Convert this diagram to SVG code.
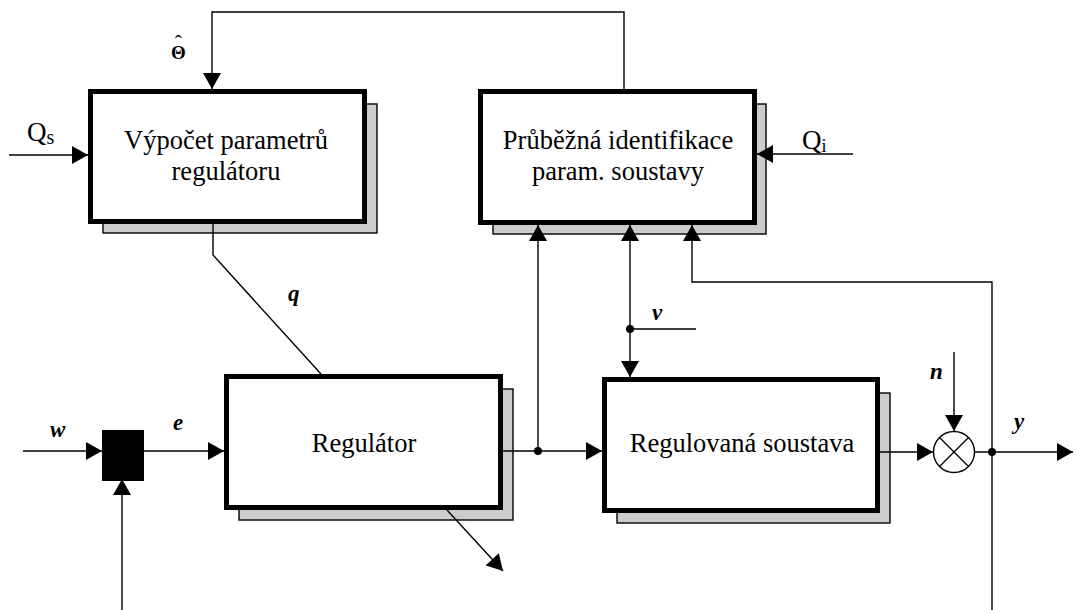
<svg xmlns="http://www.w3.org/2000/svg" width="1077" height="610" viewBox="0 0 1077 610">
<style>
.shadow{fill:#cccccc;stroke:#000;stroke-width:1.4}
.box{fill:#fff;stroke:#000;stroke-width:5}
.t{font-family:"Liberation Serif","Times New Roman",serif;font-size:26.5px;text-anchor:middle;fill:#000}
.lbl{font-family:"Liberation Serif","Times New Roman",serif;font-size:23px;font-style:italic;font-weight:bold;fill:#000}
.q{font-family:"Liberation Serif","Times New Roman",serif;font-size:27px;fill:#000}
.ln{fill:none;stroke:#000;stroke-width:1.4}
.arr{marker-end:url(#ah)}
</style>
<defs>
<marker id="ah" markerUnits="userSpaceOnUse" markerWidth="16" markerHeight="18" refX="16" refY="9" orient="auto" viewBox="0 0 16 18">
<path d="M0,0 L16,9 L0,18 z" fill="#000"/>
</marker>
</defs>
<rect width="1077" height="610" fill="#fff"/>

<g id="vypocet">
<rect class="shadow" x="103" y="104" width="274" height="129"/>
<rect class="box" x="90.5" y="91.5" width="274" height="130"/>
<text class="t" x="226" y="149">Výpočet parametrů</text>
<text class="t" x="226" y="180">regulátoru</text>
</g>

<g id="identifikace">
<rect class="shadow" x="493" y="104" width="273" height="130"/>
<rect class="box" x="480.5" y="91.5" width="274" height="131"/>
<text class="t" x="618" y="149">Průběžná identifikace</text>
<text class="t" x="618" y="180">param. soustavy</text>
</g>

<g id="regulator">
<rect class="shadow" x="239" y="389" width="274" height="131"/>
<rect class="box" x="226.5" y="376.5" width="274" height="131"/>
<text class="t" x="364" y="452">Regulátor</text>
</g>

<g id="soustava">
<rect class="shadow" x="617" y="393" width="273" height="130"/>
<rect class="box" x="604.5" y="379.5" width="273" height="131"/>
<text class="t" x="742" y="452">Regulovaná soustava</text>
</g>

<g id="srovnavac">
<rect x="102" y="430" width="42" height="51" fill="#000"/>
</g>

<g id="nasobic">
<circle cx="954" cy="452" r="20.5" fill="#fff" stroke="#000" stroke-width="1.4"/>
<path class="ln" d="M939.5,437.5 L968.5,466.5 M968.5,437.5 L939.5,466.5"/>
</g>

<g id="connectors">
<path class="ln arr" d="M624,89 V12 H212 V89"/>
<path class="ln arr" d="M9,155 H88"/>
<path class="ln arr" d="M853,154 H757"/>
<path class="ln" d="M213,224 V255 L321,374"/>
<path class="ln arr" d="M23,451 H102"/>
<path class="ln arr" d="M122,610 V479"/>
<path class="ln arr" d="M144,451 H224"/>
<path class="ln arr" d="M503,451 H602"/>
<path class="ln arr" d="M538,451 V225"/>
<path class="ln arr" d="M630,329 V225"/>
<path class="ln arr" d="M630,329 V377"/>
<path class="ln" d="M630,329 H696"/>
<path class="ln arr" d="M992,610 V282 H692 V225"/>
<path class="ln arr" d="M447,510 L503,571"/>
<path class="ln arr" d="M880,452 H933"/>
<path class="ln arr" d="M954,352 V431"/>
<path class="ln arr" d="M975,452 H1073"/>
<circle cx="538" cy="451" r="4" fill="#000"/>
<circle cx="630" cy="329" r="4" fill="#000"/>
<circle cx="992" cy="452" r="4" fill="#000"/>
</g>

<g id="labels">
<text x="178.5" y="59" font-family="Liberation Serif, serif" font-size="19" font-weight="bold" text-anchor="middle">Θ<tspan x="178.5" y="50" font-size="22" font-weight="normal">ˆ</tspan></text>
<text class="q" x="27" y="141">Q<tspan font-size="20" dy="3">s</tspan></text>
<text class="q" x="802" y="149">Q<tspan font-size="18" dy="3">i</tspan></text>
<text class="lbl" x="50" y="437">w</text>
<text class="lbl" x="173" y="430">e</text>
<text class="lbl" x="288" y="301">q</text>
<text class="lbl" x="652" y="320">v</text>
<text class="lbl" x="930" y="379">n</text>
<text class="lbl" x="1014" y="429">y</text>
</g>
</svg>
